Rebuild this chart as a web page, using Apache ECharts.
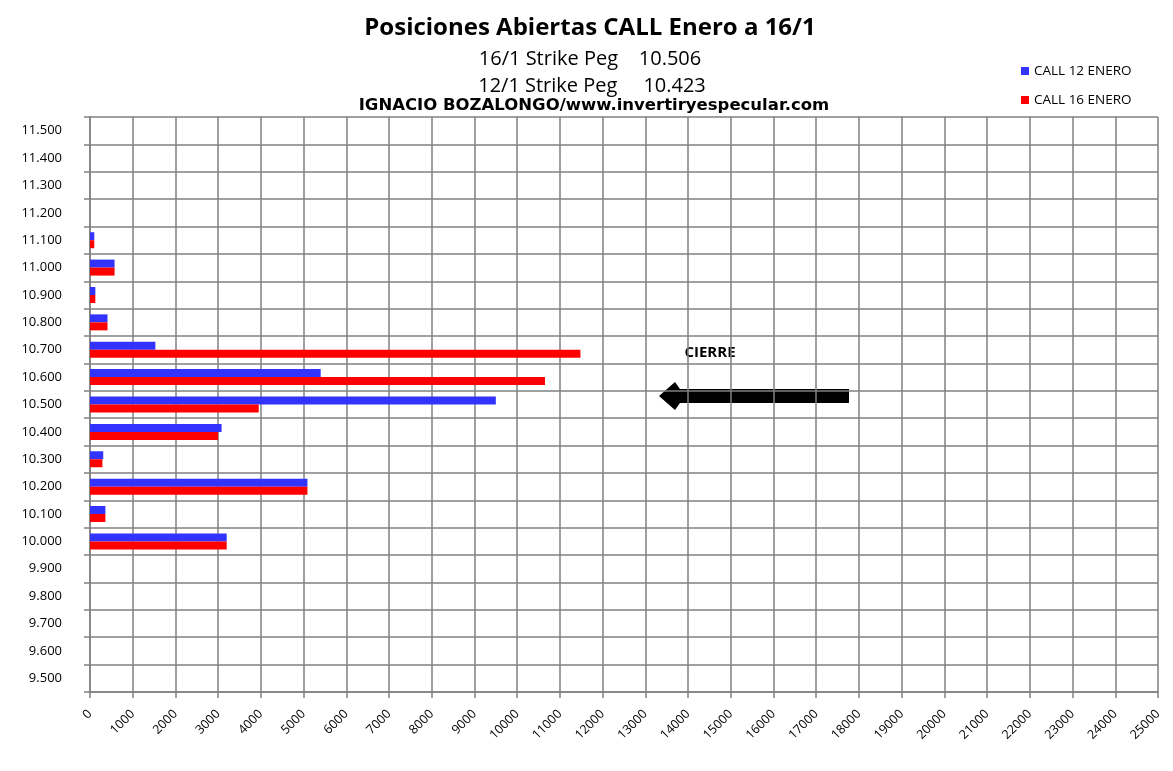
<!DOCTYPE html>
<html>
<head>
<meta charset="utf-8">
<script src="https://cdn.jsdelivr.net/npm/echarts@6/dist/echarts.min.js"></script>
<style>html,body{margin:0;padding:0;background:#fff}#c{width:1173px;height:771px}</style>
</head>
<body>
<div id="c"></div>
<script>
const strikes = ['9.500','9.600','9.700','9.800','9.900','10.000','10.100','10.200','10.300','10.400','10.500','10.600','10.700','10.800','10.900','11.000','11.100','11.200','11.300','11.400','11.500'];
const call12 = [0,0,0,0,0,3200,360,5090,310,3080,9500,5400,1530,410,125,575,100,0,0,0,0];
const call16 = [0,0,0,0,0,3200,360,5090,290,3000,3950,10650,11480,410,125,575,100,0,0,0,0];
const seriesNames = ['CALL 12 ENERO','CALL 16 ENERO'];
const titleText = 'Posiciones Abiertas CALL Enero a 16/1';
const sub1 = '16/1 Strike Peg    10.506';
const sub2 = '12/1 Strike Peg     10.423';
const sub3 = 'IGNACIO BOZALONGO/www.invertiryespecular.com';
const note = 'CIERRE';

const FONT = '"Open Sans", "Liberation Sans", sans-serif';
const chart = echarts.init(document.getElementById('c'));
chart.setOption({
  animation: false,
  backgroundColor: '#ffffff',
  grid: {left: 90, right: 15, top: 117, bottom: 79, containLabel: false},
  legend: {
    orient: 'vertical', left: 1016, top: 59, itemWidth: 8, itemHeight: 8, itemGap: 15,
    icon: 'rect',
    textStyle: {fontFamily: FONT, fontSize: 13.5, color: '#000'},
    data: seriesNames
  },
  xAxis: {
    type: 'value', min: 0, max: 25000, interval: 1000,
    axisLine: {show: true, lineStyle: {color: '#808080', width: 1.5}},
    axisTick: {show: true, length: 6, lineStyle: {color: '#808080', width: 1.5}},
    splitLine: {show: true, lineStyle: {color: '#808080', width: 1.5}},
    axisLabel: {rotate: 45, margin: 20, fontFamily: FONT, fontSize: 12.5, color: '#000', formatter: v => String(v)}
  },
  yAxis: {
    type: 'category', data: strikes,
    axisLine: {show: true, lineStyle: {color: '#808080', width: 1.5}},
    axisTick: {show: true, length: 6, lineStyle: {color: '#808080', width: 1.5}},
    splitLine: {show: true, lineStyle: {color: '#808080', width: 1.5}},
    axisLabel: {margin: 28, fontFamily: FONT, fontSize: 13, color: '#000'}
  },
  series: [
    {name: seriesNames[0], type: 'bar', data: call12, barWidth: 8, barGap: '0%', itemStyle: {color: '#3333ff'}},
    {name: seriesNames[1], type: 'bar', data: call16, barWidth: 8, barGap: '0%', itemStyle: {color: '#ff0000'}}
  ],
  graphic: [
    {type: 'text', x: 590, y: 28, style: {text: titleText, textAlign: 'center', textVerticalAlign: 'middle', font: 'bold 24px ' + FONT, fill: '#000'}},
    {type: 'text', x: 590, y: 59, style: {text: sub1, textAlign: 'center', textVerticalAlign: 'middle', font: '20px ' + FONT, fill: '#000'}},
    {type: 'text', x: 592, y: 86, style: {text: sub2, textAlign: 'center', textVerticalAlign: 'middle', font: '20px ' + FONT, fill: '#000'}},
    {type: 'text', x: 594, y: 106, style: {text: sub3, textAlign: 'center', textVerticalAlign: 'middle', font: 'bold 16.5px "DejaVu Sans", sans-serif', fill: '#000'}},
    {type: 'text', x: 710, y: 353, style: {text: note, textAlign: 'center', textVerticalAlign: 'middle', font: 'bold 15px ' + FONT, fill: '#000'}},
    {type: 'polygon', shape: {points: [[659,396],[675,382],[680,389],[849,389],[849,403],[680,403],[675,410]]}, style: {fill: '#000'}}
  ]
});
</script>
</body>
</html>
